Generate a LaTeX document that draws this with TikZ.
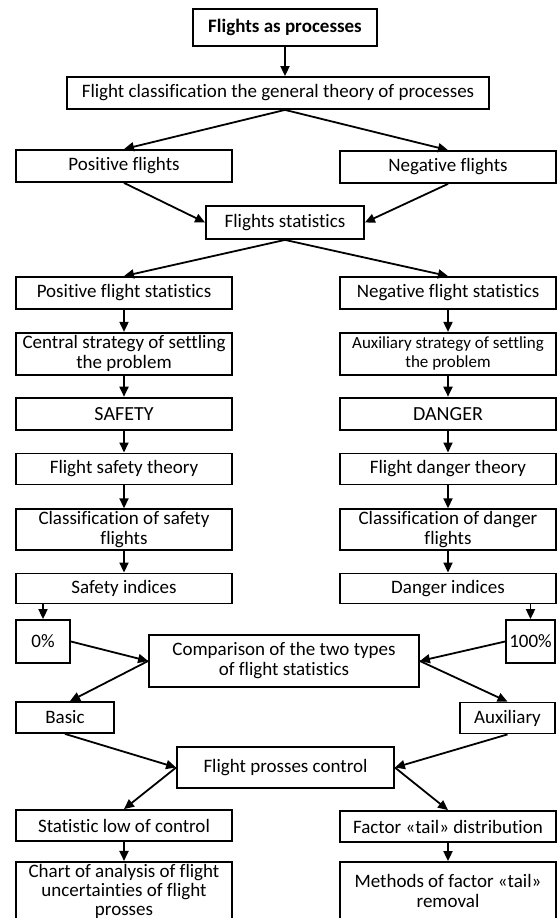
\documentclass[tikz,border=0pt]{standalone}
\usepackage{fontspec}
\setmainfont{Carlito}[Ligatures={NoCommon}]
\usetikzlibrary{positioning,arrows.meta}

\begin{document}
\begin{tikzpicture}[x=1pt, y=-1pt,
    box/.style={draw, line width=1.8pt, align=center, inner sep=2pt, font=\fontsize{19}{20}\selectfont},
    col/.style={box, minimum width=216pt, minimum height=32pt},
    arrow/.style={-{Triangle[length=10pt,width=9pt]}, line width=1.8pt}
  ]
    \useasboundingbox (0,0) rectangle (557,918);
    \clip (0,0) rectangle (557,918);

    \node[box, minimum width=184pt, minimum height=37pt, font=\bfseries\fontsize{19}{20}\selectfont] (top) at (285,27.5) {Flights as processes};
    \node[box, minimum width=422pt, minimum height=32pt] (cls) at (278,93) {Flight classification the general theory of processes};
    \node[col] (posf) at (124,166) {Positive flights};
    \node[col] (negf) at (448,167) {Negative flights};
    \node[box, minimum width=158pt, minimum height=33pt] (stat) at (285,222.5) {Flights statistics};

    % left branch
    \node[col] (pstat) at (124,293) {Positive flight statistics};
    \node[col, minimum height=42pt, below=22pt of pstat] (cstr) {Central strategy of settling\\the problem};
    \node[col, font=\fontsize{20}{20}\selectfont, below=21pt of cstr] (safety) {SAFETY};
    \node[col, minimum height=31pt, below=22pt of safety] (sthe) {Flight safety theory};
    \node[col, minimum height=40pt, below=23pt of sthe] (scls) {Classification of safety\\flights};
    \node[col, minimum height=30pt, below=22pt of scls] (sind) {Safety indices};

    % right branch
    \node[col] (nstat) at (pstat -| negf) {Negative flight statistics};
    \node[col, minimum height=42pt, font=\fontsize{17}{19}\selectfont] (astr) at (cstr -| negf) {Auxiliary strategy of settling\\the problem};
    \node[col, font=\fontsize{20}{20}\selectfont] (danger) at (safety -| negf) {DANGER};
    \node[col, minimum height=31pt] (dthe) at (sthe -| negf) {Flight danger theory};
    \node[col, minimum height=40pt] (dcls) at (scls -| negf) {Classification of danger\\flights};
    \node[col, minimum height=30pt] (dind) at (sind -| negf) {Danger indices};

    \node[box, minimum width=54pt, minimum height=43pt] (zero) at (43,641.5) {0\%};
    \node[box, minimum width=49pt, minimum height=43pt] (hund) at (530.5,641.5) {100\%};
    \node[box, minimum width=270pt, minimum height=52pt] (comp) at (284,661) {Comparison of the two types\\of flight statistics};
    \node[box, minimum width=98pt, minimum height=31pt] (basic) at (65,717.5) {Basic};
    \node[box, minimum width=95pt, minimum height=31pt] (aux) at (507.5,718) {Auxiliary};
    \node[box, minimum width=217pt, minimum height=41pt] (ctrl) at (285.5,767.5) {Flight prosses control};
    \node[col, minimum height=31pt] (slow) at (124,825.5) {Statistic low of control};
    \node[col, minimum height=31pt] (tail) at (448,826.5) {Factor «tail» distribution};
    \node[col, minimum height=58pt, font=\fontsize{19}{19}\selectfont] (chart) at (124,891) {Chart of analysis of flight\\uncertainties of flight\\prosses};
    \node[col, minimum height=58pt] (meth) at (448,891) {Methods of factor «tail»\\removal};

    \draw[arrow] (top.south) -- (top.south |- cls.north);
    \draw[arrow] (top.south |- cls.south) -- (posf.north);
    \draw[arrow] (top.south |- cls.south) -- (negf.north);
    \draw[arrow] (posf.south) -- (stat.west);
    \draw[arrow] (negf.south) -- (stat.east);
    \draw[arrow] (stat.south) -- (pstat.north);
    \draw[arrow] (stat.south) -- (nstat.north);

    \draw[arrow] (pstat) -- (cstr);
    \draw[arrow] (cstr) -- (safety);
    \draw[arrow] (safety) -- (sthe);
    \draw[arrow] (sthe) -- (scls);
    \draw[arrow] (scls) -- (sind);
    \draw[arrow] (nstat) -- (astr);
    \draw[arrow] (astr) -- (danger);
    \draw[arrow] (danger) -- (dthe);
    \draw[arrow] (dthe) -- (dcls);
    \draw[arrow] (dcls) -- (dind);

    \draw[arrow] (zero.north |- sind.south) -- (zero.north);
    \draw[arrow] (hund.north |- dind.south) -- (hund.north);
    \draw[arrow] (zero.east) -- (comp.west);
    \draw[arrow] (hund.west) -- (comp.east);
    \draw[arrow] (comp.west) -- ([xshift=5pt]basic.north);
    \draw[arrow] (comp.east) -- (aux.north);
    \draw[arrow] (basic.south) -- (ctrl.west);
    \draw[arrow] (aux.south) -- (ctrl.east);
    \draw[arrow] (ctrl.west) -- (slow.north);
    \draw[arrow] (ctrl.east) -- (tail.north);
    \draw[arrow] (slow) -- (chart);
    \draw[arrow] (tail) -- (meth);

  \end{tikzpicture}
\end{document}
